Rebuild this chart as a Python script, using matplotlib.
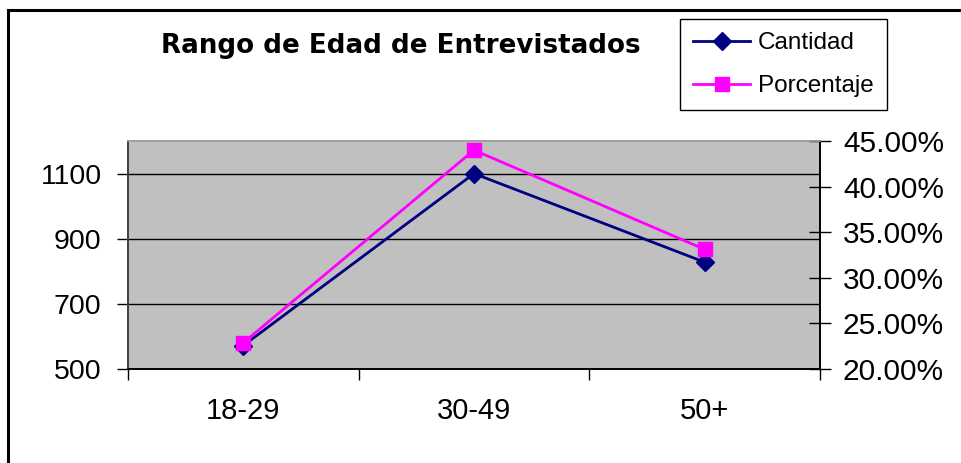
import numpy as np
import matplotlib.pyplot as plt
from matplotlib.lines import Line2D
from matplotlib.ticker import FixedLocator, FuncFormatter

# Data
categories = ['18-29', '30-49', '50+']
cantidad = [572, 1100, 828]
porcentaje = [22.88, 44.00, 33.12]

plt.rcParams['font.family'] = ['Liberation Sans', 'DejaVu Sans']

fig = plt.figure(figsize=(9.61, 4.63), dpi=100)
fig.patch.set_facecolor('white')

# Outer chart border (cut off on the right and bottom like the reference)
fig.add_artist(Line2D([8 / 961, 8 / 961], [0, 1 - 10 / 463], color='black', lw=2.2,
                      transform=fig.transFigure, solid_capstyle='projecting'))
fig.add_artist(Line2D([8 / 961, 1], [1 - 10 / 463, 1 - 10 / 463], color='black', lw=2.2,
                      transform=fig.transFigure, solid_capstyle='projecting'))

ax = fig.add_axes([128 / 961, 1 - 369 / 463, (820 - 128) / 961, (369 - 141) / 463])
ax.set_facecolor('#C0C0C0')
ax2 = ax.twinx()

x = np.arange(len(categories)) + 0.5

l1, = ax.plot(x, cantidad, color='#000080', lw=2, marker='D', ms=9,
              markerfacecolor='#000080', markeredgecolor='#000080', label='Cantidad')
l2, = ax2.plot(x, porcentaje, color='#FF00FF', lw=2, marker='s', ms=10,
               markerfacecolor='#FF00FF', markeredgecolor='#FF00FF', label='Porcentaje')

ax.set_xlim(0, len(categories))
ax.set_ylim(500, 1200)
ax2.set_ylim(20, 45)

# x axis: tick marks between categories, labels at category centers
ax.xaxis.set_major_locator(FixedLocator(np.arange(len(categories) + 1)))
ax.xaxis.set_minor_locator(FixedLocator(x))
ax.set_xticklabels([''] * (len(categories) + 1))
ax.set_xticklabels(categories, minor=True)
ax.tick_params(axis='x', which='major', direction='out', length=8, width=1, color='black')
ax.tick_params(axis='x', which='minor', length=0, pad=20, labelsize=21)

# left axis
ax.set_yticks([500, 700, 900, 1100])
ax.tick_params(axis='y', direction='out', length=8, width=1, labelsize=20.5, pad=11)
for v in [700, 900, 1100]:
    ax.axhline(v, color='black', lw=1, zorder=1)

# right axis
ax2.set_yticks([20, 25, 30, 35, 40, 45])
ax2.yaxis.set_major_formatter(FuncFormatter(lambda v, p: f'{v:.2f}%'))
ax2.tick_params(axis='y', direction='inout', length=16, width=1, labelsize=21.5, pad=8.5)

for a in (ax, ax2):
    a.spines['left'].set_color('#404040')
    a.spines['bottom'].set_color('black')
    a.spines['right'].set_color('black')
    a.spines['top'].set_color('#A0A0A0')
    for s in a.spines.values():
        s.set_linewidth(1.2)

fig.text(401 / 961, 1 - 46 / 463, 'Rango de Edad de Entrevistados', ha='center', va='center',
         fontsize=18.8, fontweight='bold', family=['DejaVu Sans'])

leg = fig.legend([l1, l2], ['Cantidad', 'Porcentaje'], loc='upper left',
                 bbox_to_anchor=(680 / 961, 1 - 19 / 463), fontsize=17.5,
                 frameon=True, fancybox=False, framealpha=1, edgecolor='black',
                 handlelength=2.35, handletextpad=0.3, borderpad=0.55,
                 labelspacing=0.85, borderaxespad=0)
leg.get_frame().set_linewidth(1)

fig.savefig('out.png', dpi=100)
